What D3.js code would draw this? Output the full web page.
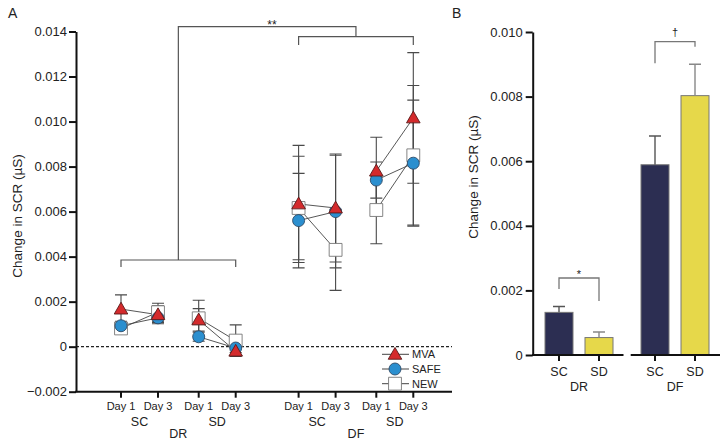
<!DOCTYPE html>
<html>
<head>
<meta charset="utf-8">
<script src="https://cdn.jsdelivr.net/npm/d3@7"></script>
<style>
  body { margin: 0; background: #fff; }
  text { font-family: "Liberation Sans", Arial, sans-serif; fill: #222; }
</style>
</head>
<body>
<div id="chart"></div>
<script>
// ---- panel A data ----
var dayLabels = ["Day 1", "Day 3", "Day 1", "Day 3", "Day 1", "Day 3", "Day 1", "Day 3"];
var subLabels = ["SC", "SD", "SC", "SD"];
var groupLabels = ["DR", "DF"];
var yTicksA = [-0.002, 0, 0.002, 0.004, 0.006, 0.008, 0.010, 0.012, 0.014];

var mva     = [0.00167, 0.00142, 0.00119, -0.0002, 0.00634, 0.00616, 0.0078, 0.01016];
var mvaErr  = [0.00063, 0.0004, 0.0005, 0.0002, 0.0026, 0.0024, 0.0015, 0.0029];
var safe    = [0.00093, 0.00128, 0.00044, -0.00006, 0.0056, 0.006, 0.0074, 0.00815];
var safeErr = [0.0002, 0.0002, 0.0002, 0.0002, 0.0021, 0.0025, 0.0008, 0.0028];
var newv    = [0.00081, 0.00153, 0.00126, 0.00027, 0.00616, 0.0043, 0.00607, 0.0085];
var newErr  = [0.0002, 0.0004, 0.0008, 0.0007, 0.0023, 0.0018, 0.0015, 0.0031];

// ---- panel B data ----
var barGroups = ["DR", "DF"];
var barSubs = ["SC", "SD"];
var barValues = [0.00132, 0.00054, 0.00589, 0.00803];
var barErr = [0.00018, 0.00017, 0.00089, 0.00097];
var yTicksB = [0, 0.002, 0.004, 0.006, 0.008, 0.010];

var W = 723, H = 445;
var svg = d3.select("#chart").append("svg")
    .attr("width", W)
    .attr("height", H);

var fmt = function(d) { return d === 0 ? "0" : d3.format(".3f")(d); };

// ===================== panel A =====================
var yA = d3.scaleLinear().domain([-0.002, 0.014]).range([391.7, 31.5]);
// slot position: day within pair, SC/SD within group, group gap
var slot = function(i) {
  var day = i % 2, sub = Math.floor(i / 2) % 2, grp = Math.floor(i / 4);
  return day + 2.1 * sub + 4.8 * grp;
};
var xA = d3.scaleLinear().domain([0, 1]).range([121, 158]);
var xLeft = 76, xRight = 452;

var gA = svg.append("g");

// zero line
gA.append("line")
  .attr("x1", xLeft).attr("x2", xRight)
  .attr("y1", yA(0)).attr("y2", yA(0))
  .attr("stroke", "#222").attr("stroke-width", 1.3)
  .attr("stroke-dasharray", "3,2");

// y axis
var yAxisA = d3.axisLeft(yA).tickValues(yTicksA).tickFormat(fmt).tickSize(7).tickSizeOuter(0);
var gy = gA.append("g").attr("transform", "translate(" + xLeft + ",0)").call(yAxisA);
gy.select(".domain").attr("stroke", "#111").attr("stroke-width", 2);
gy.selectAll(".tick line").attr("stroke", "#111").attr("stroke-width", 2);
gy.selectAll(".tick text").attr("font-size", 13).attr("x", -9)
  .style("font-family", "Liberation Sans, Arial, sans-serif").attr("fill", "#222");

// x axis line and ticks
gA.append("line")
  .attr("x1", xLeft - 1).attr("x2", xRight)
  .attr("y1", yA(-0.002)).attr("y2", yA(-0.002))
  .attr("stroke", "#111").attr("stroke-width", 2);
gA.selectAll(".xtick").data(dayLabels).enter().append("line")
  .attr("x1", (d, i) => xA(slot(i))).attr("x2", (d, i) => xA(slot(i)))
  .attr("y1", yA(-0.002)).attr("y2", yA(-0.002) + 6)
  .attr("stroke", "#111").attr("stroke-width", 2);

gA.selectAll(".daylab").data(dayLabels).enter().append("text")
  .attr("x", (d, i) => xA(slot(i)))
  .attr("y", 410)
  .attr("text-anchor", "middle")
  .attr("font-size", 11)
  .text(d => d);
gA.selectAll(".sublab").data(subLabels).enter().append("text")
  .attr("x", (d, i) => (xA(slot(2 * i)) + xA(slot(2 * i + 1))) / 2)
  .attr("y", 425.5)
  .attr("text-anchor", "middle")
  .attr("font-size", 12.5)
  .text(d => d);
gA.selectAll(".grplab").data(groupLabels).enter().append("text")
  .attr("x", (d, i) => (xA(slot(4 * i)) + xA(slot(4 * i + 3))) / 2)
  .attr("y", 437.5)
  .attr("text-anchor", "middle")
  .attr("font-size", 12.5)
  .text(d => d);

// y label
gA.append("text")
  .attr("transform", "translate(22,216) rotate(-90)")
  .attr("text-anchor", "middle")
  .attr("font-size", 13.5)
  .text("Change in SCR (\u00b5S)");

gA.append("text").attr("x", 8).attr("y", 18).attr("font-size", 14).text("A");

// significance brackets
var bc = "#555";
var xDR1 = xA(slot(0)), xDR2 = xA(slot(3)), xDF1 = xA(slot(4)), xDF2 = xA(slot(7));
var xDRm = (xDR1 + xDR2) / 2, xDFm = (xDF1 + xDF2) / 2;
var brA = d3.path();
brA.moveTo(xDR1, 267); brA.lineTo(xDR1, 260); brA.lineTo(xDR2, 260); brA.lineTo(xDR2, 267);
brA.moveTo(xDRm, 260); brA.lineTo(xDRm, 26.7); brA.lineTo(xDFm, 26.7); brA.lineTo(xDFm, 36.7);
brA.moveTo(xDF1, 45); brA.lineTo(xDF1, 36.7); brA.lineTo(xDF2, 36.7); brA.lineTo(xDF2, 45);
gA.append("path").attr("d", brA.toString()).attr("fill", "none")
  .attr("stroke", bc).attr("stroke-width", 1.2);
gA.append("text").attr("x", 272).attr("y", 29).attr("text-anchor", "middle")
  .attr("font-size", 12).text("**");

// series
var series = [
  { name: "NEW", vals: newv, err: newErr, shape: "square" },
  { name: "SAFE", vals: safe, err: safeErr, shape: "circle" },
  { name: "MVA", vals: mva, err: mvaErr, shape: "triangle" }
];

var symbolFor = function(shape) {
  if (shape === "square") return d3.symbol().type(d3.symbolSquare).size(165)();
  if (shape === "circle") return d3.symbol().type(d3.symbolCircle).size(113)();
  return d3.symbol().type(d3.symbolTriangle).size(80)();
};
var styleFor = {
  square: { fill: "#fff", stroke: "#777" },
  circle: { fill: "#2b8fcf", stroke: "#2c4a66" },
  triangle: { fill: "#d42a2c", stroke: "#5a1a1a" }
};

// error bars
series.forEach(function(s) {
  s.vals.forEach(function(v, i) {
    var x = xA(slot(i)), e = s.err[i];
    var p = d3.path();
    p.moveTo(x, yA(v - e)); p.lineTo(x, yA(v + e));
    p.moveTo(x - 6, yA(v + e)); p.lineTo(x + 6, yA(v + e));
    p.moveTo(x - 6, yA(v - e)); p.lineTo(x + 6, yA(v - e));
    gA.append("path").attr("d", p.toString()).attr("fill", "none")
      .attr("stroke", "#4a4a4a").attr("stroke-width", 1.1);
  });
});

// connecting lines (Day 1 -> Day 3)
series.forEach(function(s) {
  for (var k = 0; k < 4; k++) {
    gA.append("line")
      .attr("x1", xA(slot(2 * k))).attr("y1", yA(s.vals[2 * k]))
      .attr("x2", xA(slot(2 * k + 1))).attr("y2", yA(s.vals[2 * k + 1]))
      .attr("stroke", "#444").attr("stroke-width", 0.9);
  }
});

// markers
series.forEach(function(s) {
  gA.append("g").selectAll("path").data(s.vals).enter().append("path")
    .attr("d", symbolFor(s.shape))
    .attr("transform", (d, i) => "translate(" + xA(slot(i)) + "," + (yA(d) + (s.shape === "triangle" ? 1 : 0)) + ")")
    .attr("fill", styleFor[s.shape].fill)
    .attr("stroke", styleFor[s.shape].stroke)
    .attr("stroke-width", 0.9);
});

// legend
var legendItems = ["MVA", "SAFE", "NEW"];
var legendShapes = ["triangle", "circle", "square"];
var leg = gA.append("g");
legendItems.forEach(function(name, i) {
  var ly = 354.3 + i * 14.7;
  leg.append("line").attr("x1", 382).attr("x2", 409).attr("y1", ly).attr("y2", ly)
    .attr("stroke", "#444").attr("stroke-width", 1);
  leg.append("path").attr("d", symbolFor(legendShapes[i]))
    .attr("transform", "translate(395," + (ly + (legendShapes[i] === "triangle" ? 1 : 0)) + ")")
    .attr("fill", styleFor[legendShapes[i]].fill)
    .attr("stroke", styleFor[legendShapes[i]].stroke)
    .attr("stroke-width", 0.9);
  leg.append("text").attr("x", 412).attr("y", ly + 4).attr("font-size", 11).text(name);
});

// ===================== panel B =====================
var yB = d3.scaleLinear().domain([0, 0.010]).range([355, 32]);
var xB = d3.scaleLinear().domain([0, 1]).range([559, 599]);
var barPos = [0, 1, 2.4, 3.4];
var barColor = ["#2c2e52", "#e6d84a"];
var barW = 28;
var gB = svg.append("g");

gB.append("text").attr("x", 452).attr("y", 18).attr("font-size", 14).text("B");

gB.selectAll(".bar").data(barValues).enter().append("rect")
  .attr("x", (d, i) => xB(barPos[i]) - barW / 2)
  .attr("y", d => yB(d))
  .attr("width", barW)
  .attr("height", d => yB(0) - yB(d))
  .attr("fill", (d, i) => barColor[i % 2])
  .attr("stroke", "#777").attr("stroke-width", 1);

barValues.forEach(function(v, i) {
  var x = xB(barPos[i]);
  var p = d3.path();
  p.moveTo(x, yB(v)); p.lineTo(x, yB(v + barErr[i]));
  p.moveTo(x - 6, yB(v + barErr[i])); p.lineTo(x + 6, yB(v + barErr[i]));
  gB.append("path").attr("d", p.toString()).attr("fill", "none")
    .attr("stroke", i % 2 ? "#888" : "#555").attr("stroke-width", 1.4);
});

var yAxisB = d3.axisLeft(yB).tickValues(yTicksB).tickFormat(fmt).tickSize(7).tickSizeOuter(0);
var gyB = gB.append("g").attr("transform", "translate(532.7,0)").call(yAxisB);
gyB.select(".domain").attr("stroke", "#111").attr("stroke-width", 2);
gyB.selectAll(".tick line").attr("stroke", "#111").attr("stroke-width", 2);
gyB.selectAll(".tick text").attr("font-size", 13).attr("x", -10)
  .style("font-family", "Liberation Sans, Arial, sans-serif").attr("fill", "#222");

// split x axis
var segs = [[532, 623.5], [630.7, 720]];
segs.forEach(function(sg) {
  gB.append("line").attr("x1", sg[0]).attr("x2", sg[1]).attr("y1", yB(0)).attr("y2", yB(0))
    .attr("stroke", "#111").attr("stroke-width", 2);
});
barValues.forEach(function(v, i) {
  var x = xB(barPos[i]);
  gB.append("line").attr("x1", x).attr("x2", x).attr("y1", yB(0)).attr("y2", yB(0) + 6)
    .attr("stroke", "#111").attr("stroke-width", 2);
  gB.append("text").attr("x", x).attr("y", 375.5).attr("text-anchor", "middle")
    .attr("font-size", 12.5).text(barSubs[i % 2]);
});
barGroups.forEach(function(g, k) {
  gB.append("text")
    .attr("x", (xB(barPos[2 * k]) + xB(barPos[2 * k + 1])) / 2)
    .attr("y", 390.5).attr("text-anchor", "middle")
    .attr("font-size", 12.5).text(g);
});

gB.append("text")
  .attr("transform", "translate(478,177) rotate(-90)")
  .attr("text-anchor", "middle")
  .attr("font-size", 13.5)
  .text("Change in SCR (\u00b5S)");

// brackets B
var pb = d3.path();
pb.moveTo(xB(0), 289); pb.lineTo(xB(0), 278); pb.lineTo(xB(1), 278); pb.lineTo(xB(1), 301);
pb.moveTo(xB(2.4), 63.3); pb.lineTo(xB(2.4), 41.7); pb.lineTo(xB(3.4), 41.7); pb.lineTo(xB(3.4), 46.7);
gB.append("path").attr("d", pb.toString()).attr("fill", "none")
  .attr("stroke", "#777").attr("stroke-width", 1.3);
gB.append("text").attr("x", (xB(0) + xB(1)) / 2).attr("y", 278).attr("text-anchor", "middle")
  .attr("font-size", 11).text("*");
gB.append("text").attr("x", (xB(2.4) + xB(3.4)) / 2).attr("y", 36).attr("text-anchor", "middle")
  .attr("font-size", 11).text("\u2020");
</script>
</body>
</html>
